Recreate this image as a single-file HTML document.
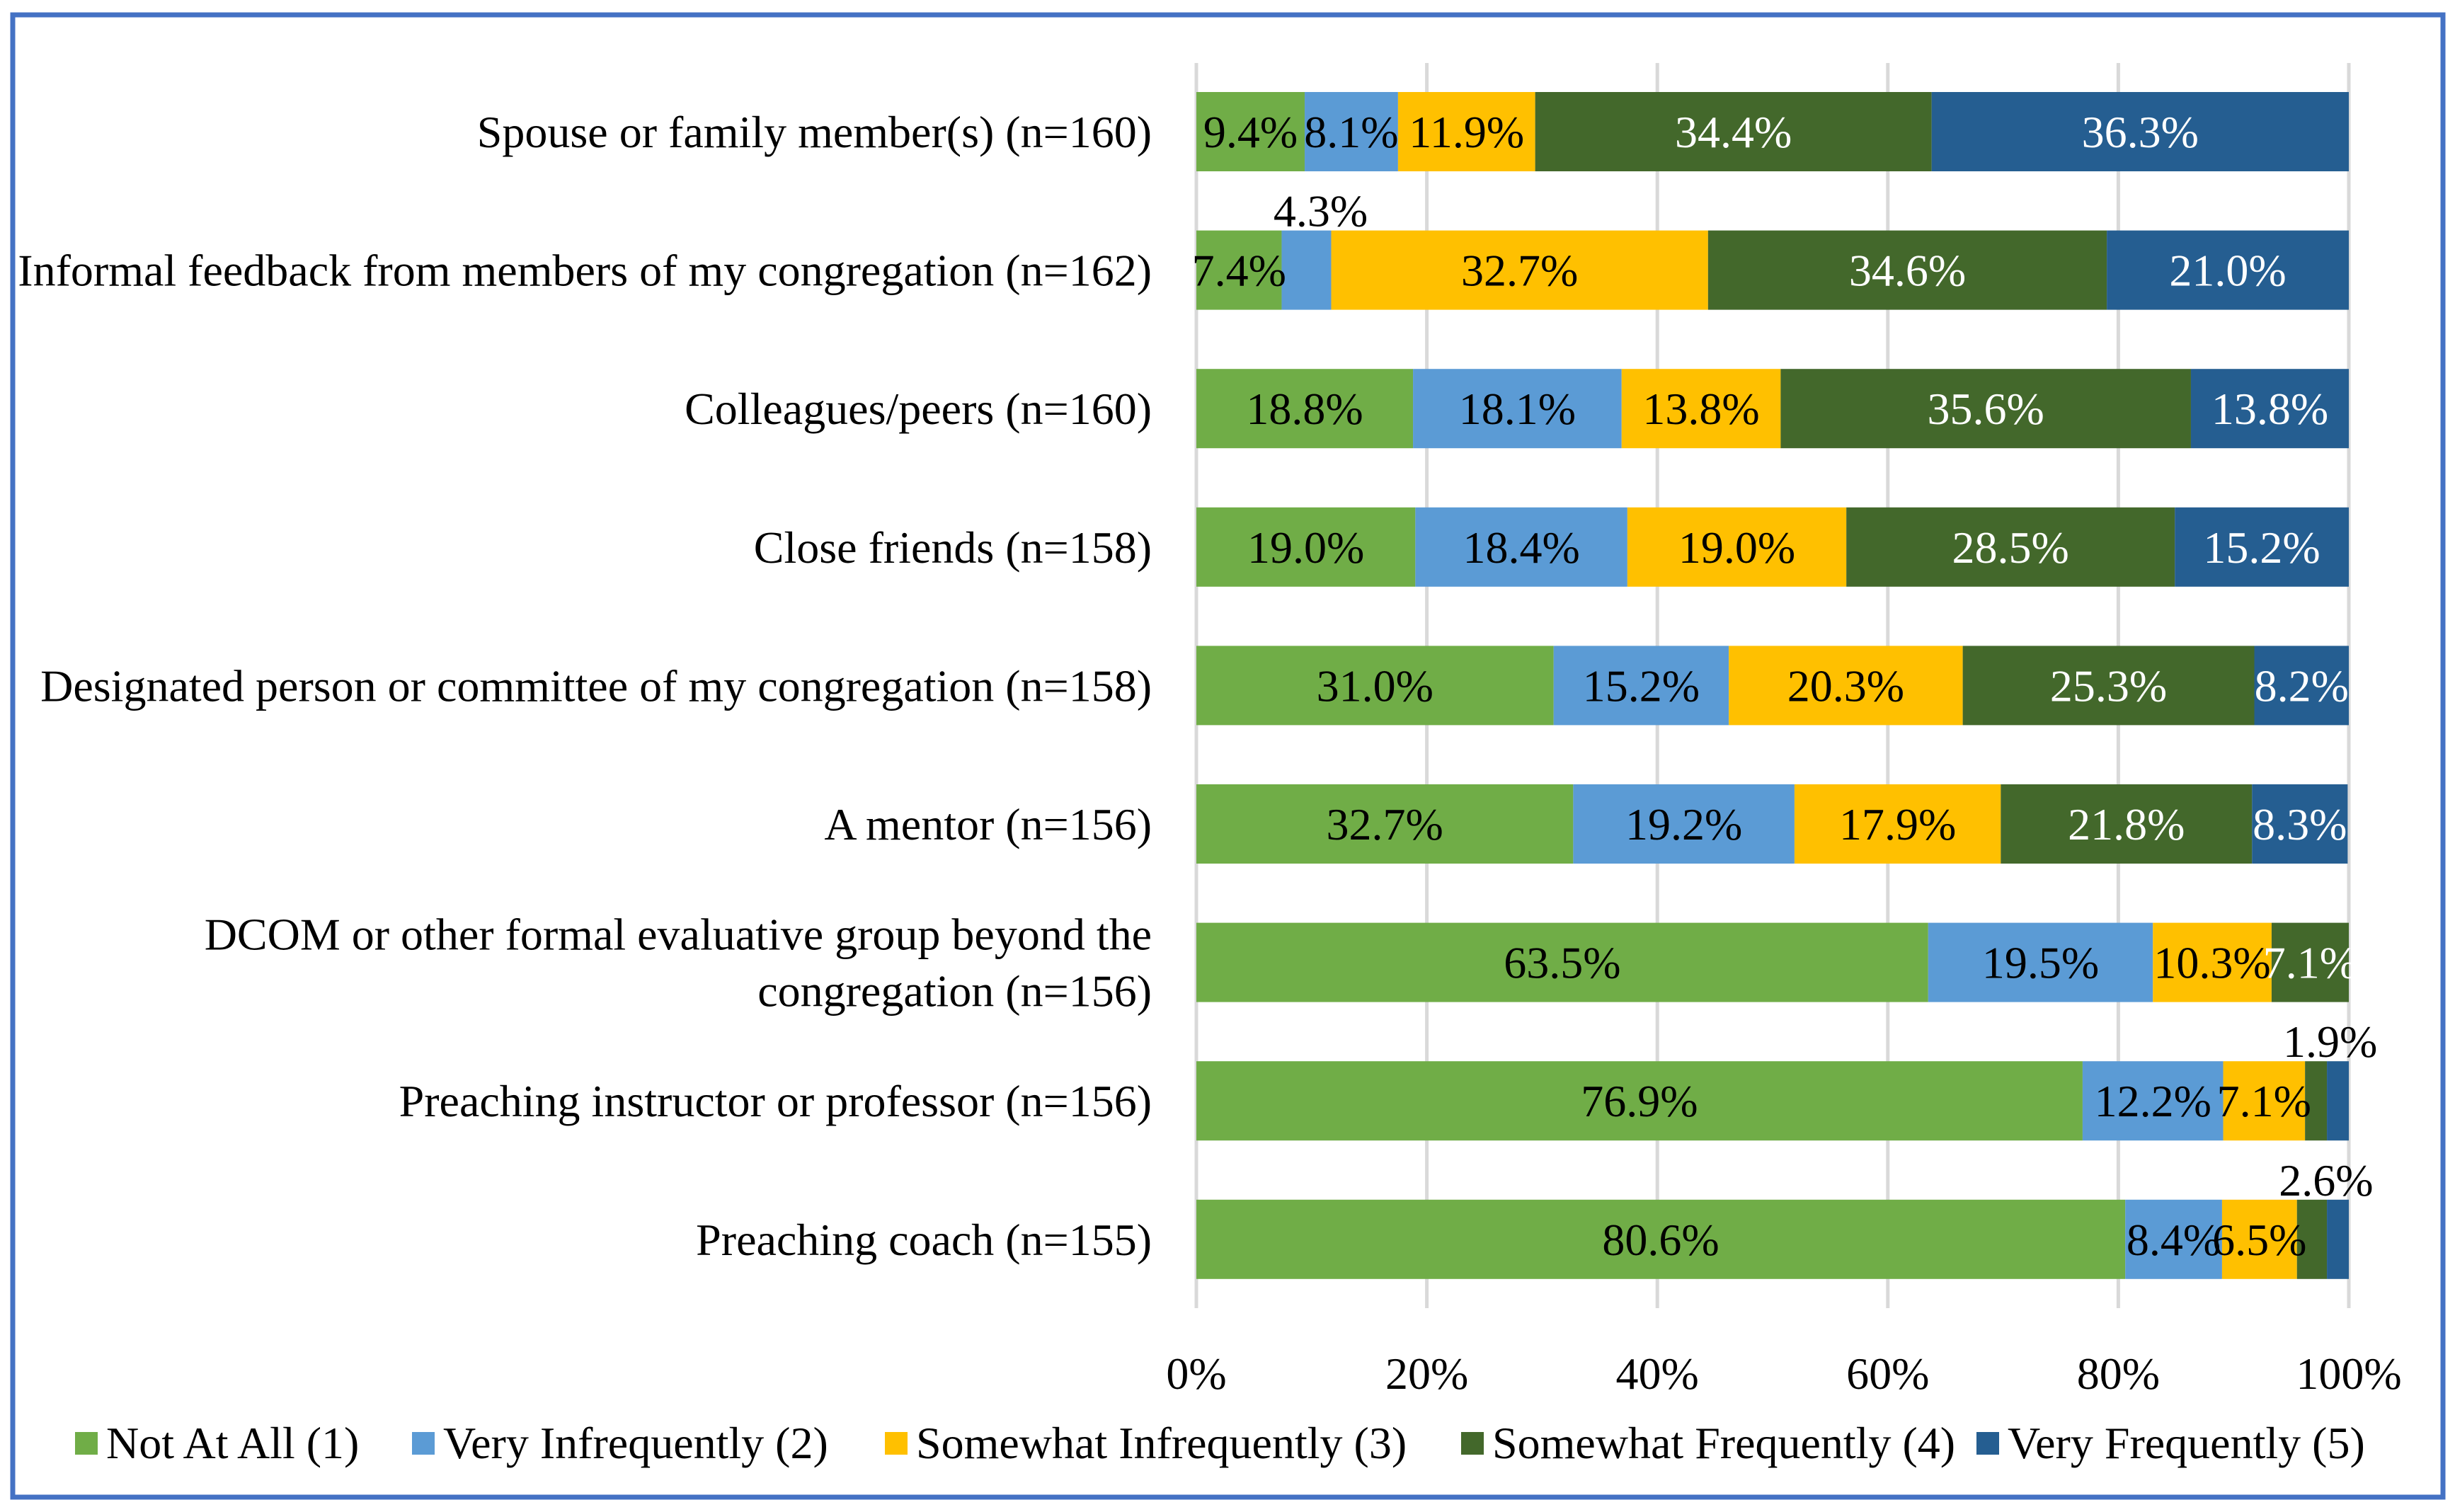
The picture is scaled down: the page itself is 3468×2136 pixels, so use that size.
<!DOCTYPE html>
<html><head><meta charset="utf-8"><style>
html,body{margin:0;padding:0;background:#fff;}
svg{display:block;font-family:"Liberation Serif",serif;}
</style></head><body>
<svg id="chart" width="3468" height="2136" viewBox="0 0 3468 2136" xmlns="http://www.w3.org/2000/svg">
<rect x="18" y="21" width="3433" height="2094" fill="#fff" stroke="#4472C4" stroke-width="7"/>
<g id="grid"></g><g id="bars"></g><g id="labels"></g><g id="ticks"></g><g id="legend"></g>
</svg>
<script>
const categories = [
 ["Spouse or family member(s) (n=160)"],
 ["Informal feedback from members of my congregation (n=162)"],
 ["Colleagues/peers (n=160)"],
 ["Close friends (n=158)"],
 ["Designated person or committee of my congregation (n=158)"],
 ["A mentor (n=156)"],
 ["DCOM or other formal evaluative group beyond the","congregation (n=156)"],
 ["Preaching instructor or professor (n=156)"],
 ["Preaching coach (n=155)"]
];
const seriesNames = ["Not At All (1)","Very Infrequently (2)","Somewhat Infrequently (3)","Somewhat Frequently (4)","Very Frequently (5)"];
const notAtAll = [9.4,7.4,18.8,19.0,31.0,32.7,63.5,76.9,80.6];
const veryInfrequently = [8.1,4.3,18.1,18.4,15.2,19.2,19.5,12.2,8.4];
const somewhatInfrequently = [11.9,32.7,13.8,19.0,20.3,17.9,10.3,7.1,6.5];
const somewhatFrequently = [34.4,34.6,35.6,28.5,25.3,21.8,7.1,1.9,2.6];
const veryFrequently = [36.3,21.0,13.8,15.2,8.2,8.3,0,1.9,1.9];
// label placement: 0 = inside, 1 = above bar, 2 = hidden
const labelMode = [
 [0,0,0,0,0],[0,1,0,0,0],[0,0,0,0,0],[0,0,0,0,0],[0,0,0,0,0],
 [0,0,0,0,0],[0,0,0,0,2],[0,0,0,1,2],[0,0,0,1,2]];
const tickValues = [0,20,40,60,80,100];
const tickLabels = ["0%","20%","40%","60%","80%","100%"];

const series = [notAtAll,veryInfrequently,somewhatInfrequently,somewhatFrequently,veryFrequently];
const colors = ["#70AD47","#5B9BD5","#FFC000","#43682B","#255E91"];
const textColors = ["#000","#000","#000","#fff","#fff"];
const NS = "http://www.w3.org/2000/svg";
const X0 = 1690, X1 = 3318, rowTop = 186, rowStep = 195.6, barH = 112;
const FS = 64;
const xScale = v => X0 + (X1 - X0) * v / 100;
const yRow = i => rowTop + i * rowStep;
function mk(tag, attrs, parent, text){
  const e = document.createElementNS(NS, tag);
  for (const k in attrs) e.setAttribute(k, attrs[k]);
  if (text !== undefined) e.textContent = text;
  parent.appendChild(e); return e;
}
const grid = document.getElementById('grid');
const bars = document.getElementById('bars');
const labels = document.getElementById('labels');
const ticks = document.getElementById('ticks');
const legend = document.getElementById('legend');

tickValues.forEach((t, i) => {
  const l = mk('line', {x1:xScale(t), x2:xScale(t), y1:89, y2:1848, stroke:'#D9D9D9', 'stroke-width':5}, grid);
  
  
  const tx = mk('text', {x:xScale(t), y:1962, 'font-size':FS, 'text-anchor':'middle', fill:'#000'}, ticks, tickLabels[i]);
  
  
});

categories.forEach((cat, i) => {
  const cy = yRow(i);
  const lines = cat;
  lines.forEach((ln, j) => {
    const yy = cy + 22 + (j - (lines.length - 1) / 2) * 80;
    const t = mk('text', {x:1627, y:yy, 'font-size':FS, 'text-anchor':'end', fill:'#000'}, labels, ln);
    
    
  });
  let acc = 0;
  series.forEach((s, k) => {
    const v = s[i];
    if (v <= 0) return;
    const xa = xScale(acc), xb = xScale(Math.min(acc + v, 100));
    const r = mk('rect', {x:xa, y:cy - barH/2, width:Math.max(0, xb - xa), height:barH, fill:colors[k]}, bars);
    
    
    const mode = labelMode[i][k];
    if (mode !== 2) {
      const cx = (xa + xb) / 2;
      const above = mode === 1;
      const t = mk('text', {x: above ? cx + 20 : cx, y: above ? cy - 84 + 22 : cy + 22, 'font-size':FS, 'text-anchor':'middle', fill: above ? '#000' : textColors[k]}, labels, v.toFixed(1) + '%');
      
      
    }
    acc += v;
  });
});

const legendSquareX = [106, 582, 1250, 2064, 2792];
seriesNames.forEach((n, k) => {
  const g = mk('g', {}, legend);
  
  
  mk('rect', {x:legendSquareX[k], y:2023, width:32, height:32, fill:colors[k]}, g);
  mk('text', {x:legendSquareX[k] + 44, y:2060, 'font-size':FS, fill:'#000'}, g, n);
});
</script>
</body></html>
